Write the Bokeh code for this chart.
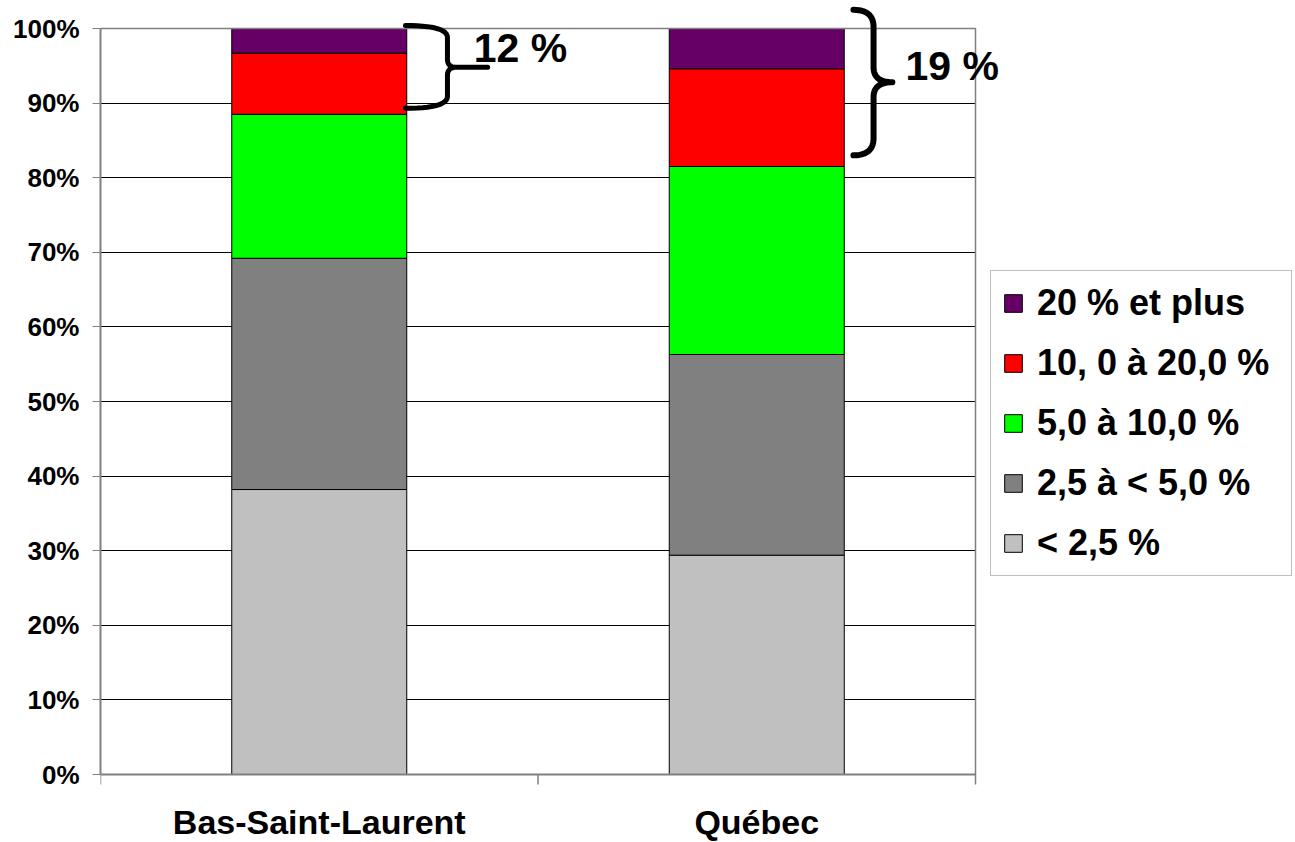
import numpy as np
from bokeh.plotting import figure
from bokeh.models import (Range1d, FixedTicker, PrintfTickFormatter, Legend,
                          LegendItem, ColumnDataSource)
from bokeh.core.properties import value
from bokeh.embed import file_html
from bokeh.resources import INLINE

# ---------------- data ----------------
categories = ["Bas-Saint-Laurent", "Québec"]
series = ["< 2,5 %", "2,5 à < 5,0 %", "5,0 à 10,0 %", "10, 0 à 20,0 %", "20 % et plus"]
lt_2_5 = [38.2, 29.4]
from_2_5_to_5 = [31.0, 26.9]
from_5_to_10 = [19.3, 25.2]
from_10_to_20 = [8.2, 13.1]
ge_20 = [3.3, 5.4]
y_ticks = list(range(0, 101, 10))
brace_labels = ["12 %", "19 %"]

colors = ["#C0C0C0", "#808080", "#00FF00", "#FF0000", "#660066"]
FONT = "Liberation Sans"

# ---------------- geometry ----------------
W, H = 1295, 842
LEFT = 100            # px, left of plot area
ZERO_PX = 774         # px, vertical position of 0 %
px_per_cat = 437.5
px_per_pct = 7.46
n = len(categories)
x_end = (W - LEFT) / px_per_cat
y_start = -(H - ZERO_PX) / px_per_pct
y_end = ZERO_PX / px_per_pct

xs = [i + 0.5 for i in range(n)]
keys = ["s0", "s1", "s2", "s3", "s4"]
source = ColumnDataSource(dict(x=xs, s0=lt_2_5, s1=from_2_5_to_5, s2=from_5_to_10,
                               s3=from_10_to_20, s4=ge_20))

p = figure(width=W, height=H, output_backend="svg", toolbar_location=None,
           x_range=Range1d(0, x_end), y_range=Range1d(y_start, y_end),
           x_axis_location=None,
           min_border_left=LEFT, min_border_right=0, min_border_top=0,
           min_border_bottom=0)
p.outline_line_color = None
p.background_fill_color = "white"
p.border_fill_color = "white"

rs = p.vbar_stack(keys, x="x", width=0.4, source=source, fill_color=colors,
                  line_color="black", line_width=1)

# grid
p.xgrid.visible = False
p.ygrid.ticker = FixedTicker(ticks=y_ticks)
p.ygrid.grid_line_color = "black"
p.ygrid.grid_line_width = 1
p.ygrid.cross_bounds = (0, n)

# frame top/right borders
p.segment(x0=[0, n], y0=[100, 0], x1=[n, n], y1=[100, 100],
          line_color="#808080", line_width=1.5)

# category axis (line + separator ticks)
tick_len = 10 / px_per_pct
p.segment(x0=[0], y0=[0], x1=[n], y1=[0], line_color="#808080", line_width=2)
bounds = list(range(n + 1))
p.segment(x0=bounds, y0=[0] * len(bounds), x1=bounds, y1=[-tick_len] * len(bounds),
          line_color="#808080", line_width=1.5)

# category labels
label_y = -(821.5 - ZERO_PX) / px_per_pct
p.text(x=xs, y=[label_y] * n, text=categories, text_align="center",
       text_baseline="middle", text_font=value(FONT), text_font_style="bold",
       text_font_size="34px", text_color="black")

# y axis
ya = p.yaxis[0]
ya.ticker = FixedTicker(ticks=y_ticks)
ya.formatter = PrintfTickFormatter(format="%d%%")
ya.bounds = (0, 100)
ya.axis_line_color = "#808080"
ya.axis_line_width = 2
ya.major_tick_line_color = "#808080"
ya.major_tick_out = 8
ya.major_tick_in = 0
ya.minor_tick_line_color = None
ya.major_label_text_font = FONT
ya.major_label_text_font_style = "bold"
ya.major_label_text_font_size = "26px"
ya.major_label_text_color = "black"
ya.major_label_standoff = 13

# braces
def brace(x0, xv, xt, yt, yb, ym, ry_end, ry_tip, rx_tip, m=14):
    t = np.linspace(0, 1, m)
    def q(a, c, b):
        return ((1 - t) ** 2 * a[0] + 2 * (1 - t) * t * c[0] + t ** 2 * b[0],
                (1 - t) ** 2 * a[1] + 2 * (1 - t) * t * c[1] + t ** 2 * b[1])
    parts = [
        q((x0, yt), (xv, yt), (xv, yt - ry_end)),
        q((xv, ym + ry_tip), (xv, ym), (xv + rx_tip, ym)),
        ([xt, xt], [ym, ym]),
        q((xv + rx_tip, ym), (xv, ym), (xv, ym - ry_tip)),
        q((xv, yb + ry_end), (xv, yb), (x0, yb)),
    ]
    bx = np.concatenate([np.asarray(a) for a, _ in parts])
    by = np.concatenate([np.asarray(b) for _, b in parts])
    return bx, by

b1x, b1y = brace(0.697, 0.793, 0.885, 100.4, 89.3, 94.8, 1.6, 1.1, 0.02)
b2x, b2y = brace(1.721, 1.767, 1.810, 102.5, 83.0, 92.8, 2.3, 2.0, 0.043)
p.line(b1x, b1y, line_color="black", line_width=5, line_cap="round", line_join="round")
p.line(b2x, b2y, line_color="black", line_width=6, line_cap="round", line_join="round")

p.text(x=[0.853, 1.840], y=[97.45, 95.04], text=brace_labels,
       text_font=value(FONT), text_font_style="bold", text_font_size="41px",
       text_baseline="middle", text_align="left", text_color="black")

# legend
items = [LegendItem(label=series[i], renderers=[rs[i]]) for i in reversed(range(len(series)))]
legend = Legend(items=items, location=(890, H - 576), margin=0, padding=11,
                spacing=18, glyph_width=22, glyph_height=22, label_height=38,
                label_width=243, label_standoff=13,
                border_line_color="#808080", border_line_width=1,
                background_fill_color="white", background_fill_alpha=1.0,
                label_text_font=FONT, label_text_font_style="bold",
                label_text_font_size="36px", label_text_color="black")
p.add_layout(legend, "center")

open("out.html", "w").write(file_html(p, INLINE))
